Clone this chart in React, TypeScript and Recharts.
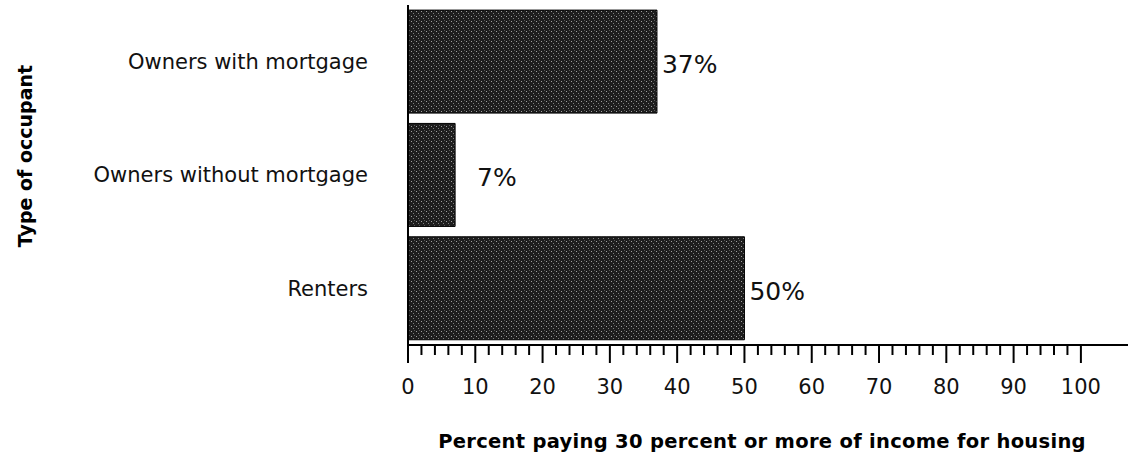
import { BarChart, Bar, XAxis, YAxis, LabelList } from "recharts"

const CATEGORIES = ["Owners with mortgage", "Owners without mortgage", "Renters"]
const PERCENTS = [37, 7, 50]
const MAJOR_TICKS = [0, 10, 20, 30, 40, 50, 60, 70, 80, 90, 100]
const ALL_TICKS = Array.from({ length: 51 }, (_, i) => i * 2)

const data = CATEGORIES.map((name, i) => ({ name, pct: PERCENTS[i] }))

const FONT = "'DejaVu Sans', 'Liberation Sans', sans-serif"

function XTick(props: any) {
  const { x, y, payload } = props
  const v = payload.value as number
  const major = MAJOR_TICKS.includes(v)
  return (
    <g>
      <line x1={x} y1={y} x2={x} y2={y + (major ? 18 : 10)} stroke="#000" strokeWidth={2} />
      {major && (
        <text x={x} y={y + 49} textAnchor="middle" fontSize={21} fontFamily={FONT} fill="#111">
          {v}
        </text>
      )}
    </g>
  )
}

function PctLabel(props: any) {
  const { x, y, width, height, value } = props
  // the small bar's label sits a little further out in the original
  const gap = value < 10 ? 22 : 5
  return (
    <text
      x={x + width + gap}
      y={y + height / 2 + 3}
      dominantBaseline="central"
      fontSize={25}
      fontFamily={FONT}
      fill="#111"
    >
      {`${value}%`}
    </text>
  )
}

export default function App() {
  return (
    <div style={{ position: "absolute", left: 0, top: 0, background: "#fff" }}>
      <BarChart
        width={1130}
        height={466}
        data={data}
        layout="vertical"
        margin={{ top: 5, right: 2, left: 0, bottom: 0 }}
        barCategoryGap="4.5%"
      >
        <defs>
          <pattern id="dither" width="5" height="5" patternUnits="userSpaceOnUse">
            <rect width="5" height="5" fill="#1e1e1e" />
            <rect x="1" y="1" width="1" height="1" fill="#a0a0a0" />
            <rect x="3" y="3" width="1" height="1" fill="#808080" />
            <rect x="4" y="0" width="1" height="1" fill="#5a5a5a" />
          </pattern>
        </defs>
        <XAxis
          type="number"
          domain={[0, 107]}
          ticks={ALL_TICKS}
          interval={0}
          tick={<XTick />}
          tickLine={false}
          tickSize={0}
          tickMargin={0}
          axisLine={{ stroke: "#000", strokeWidth: 2 }}
          height={121}
          label={{
            content: () => (
              <text
                x={762}
                y={448}
                textAnchor="middle"
                fontSize={19.5}
                letterSpacing={0.3}
                fontWeight="bold"
                fontFamily={FONT}
                fill="#000"
              >
                Percent paying 30 percent or more of income for housing
              </text>
            ),
          }}
        />
        <YAxis
          type="category"
          dataKey="name"
          width={408}
          tickLine={false}
          tickSize={0}
          tickMargin={40}
          tick={{ fontSize: 21, fontFamily: FONT, fill: "#111" }}
          axisLine={{ stroke: "#000", strokeWidth: 2 }}
          label={{
            content: () => (
              <text
                x={25}
                y={156}
                textAnchor="middle"
                dominantBaseline="central"
                transform="rotate(-90, 25, 156)"
                fontSize={19}
                fontWeight="bold"
                fontFamily={FONT}
                fill="#000"
              >
                Type of occupant
              </text>
            ),
          }}
        />
        <Bar dataKey="pct" fill="url(#dither)" stroke="#000" strokeWidth={1} isAnimationActive={false}>
          <LabelList dataKey="pct" content={<PctLabel />} />
        </Bar>
      </BarChart>
    </div>
  )
}
